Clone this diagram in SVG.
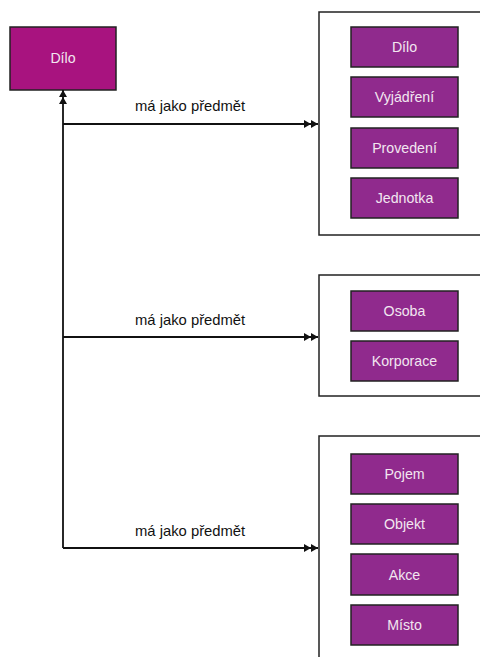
<svg xmlns="http://www.w3.org/2000/svg" width="480" height="657" viewBox="0 0 480 657">
<style>
.lbl{font-family:"Liberation Sans",Arial,sans-serif;font-size:14.8px;fill:#111}
.nt{font-family:"Liberation Sans",Arial,sans-serif;font-size:14.2px;fill:#f2e6f0;text-anchor:middle;dominant-baseline:central}
.main{fill:#a8137f;stroke:#222;stroke-width:1.5}
.item{fill:#902a8d;stroke:#222;stroke-width:1.5}
.cont{fill:#fff;stroke:#222;stroke-width:1.5}
.edge{fill:none;stroke:#111;stroke-width:1.8}
</style>
<defs>
<marker id="dbl" viewBox="0 0 14 8" refX="14" refY="4" markerWidth="14" markerHeight="8" markerUnits="userSpaceOnUse" orient="auto">
<path d="M0,0 L7,4 L0,8 Z M7,0 L14,4 L7,8 Z" fill="#111"/>
</marker>
</defs>
<rect width="480" height="657" fill="#fff"/>
<g id="main-dilo">
<rect class="main" x="10" y="27" width="106" height="63"/>
<text class="nt" x="63" y="58">Dílo</text>
</g>
<g id="container-1">
<rect class="cont" x="319" y="12" width="170" height="223"/>
</g>
<g id="container-2">
<rect class="cont" x="319" y="275" width="170" height="121"/>
</g>
<g id="container-3">
<rect class="cont" x="319" y="436" width="170" height="240"/>
</g>
<g id="n-dilo"><rect class="item" x="351" y="27" width="107" height="40"/><text class="nt" x="404.5" y="47">Dílo</text></g>
<g id="n-vyjadreni"><rect class="item" x="351" y="77" width="107" height="40"/><text class="nt" x="404.5" y="97">Vyjádření</text></g>
<g id="n-provedeni"><rect class="item" x="351" y="128" width="107" height="40"/><text class="nt" x="404.5" y="148">Provedení</text></g>
<g id="n-jednotka"><rect class="item" x="351" y="178" width="107" height="40"/><text class="nt" x="404.5" y="198">Jednotka</text></g>
<g id="n-osoba"><rect class="item" x="351" y="291" width="107" height="40"/><text class="nt" x="404.5" y="311">Osoba</text></g>
<g id="n-korporace"><rect class="item" x="351" y="341" width="107" height="40"/><text class="nt" x="404.5" y="361">Korporace</text></g>
<g id="n-pojem"><rect class="item" x="351" y="454" width="107" height="40"/><text class="nt" x="404.5" y="474">Pojem</text></g>
<g id="n-objekt"><rect class="item" x="351" y="504" width="107" height="40"/><text class="nt" x="404.5" y="524">Objekt</text></g>
<g id="n-akce"><rect class="item" x="351" y="554" width="107" height="41"/><text class="nt" x="404.5" y="574.5">Akce</text></g>
<g id="n-misto"><rect class="item" x="351" y="605" width="107" height="40"/><text class="nt" x="404.5" y="625">Místo</text></g>
<g id="connectors">
<path class="edge" d="M63,548 L63,90" marker-end="url(#dbl)"/>
<path class="edge" d="M63,124 L318,124" marker-end="url(#dbl)"/>
<path class="edge" d="M63,337 L318,337" marker-end="url(#dbl)"/>
<path class="edge" d="M63,548 L318,548" marker-end="url(#dbl)"/>
<text class="lbl" x="135" y="111">má jako předmět</text>
<text class="lbl" x="135" y="325">má jako předmět</text>
<text class="lbl" x="135" y="536">má jako předmět</text>
</g>
</svg>
